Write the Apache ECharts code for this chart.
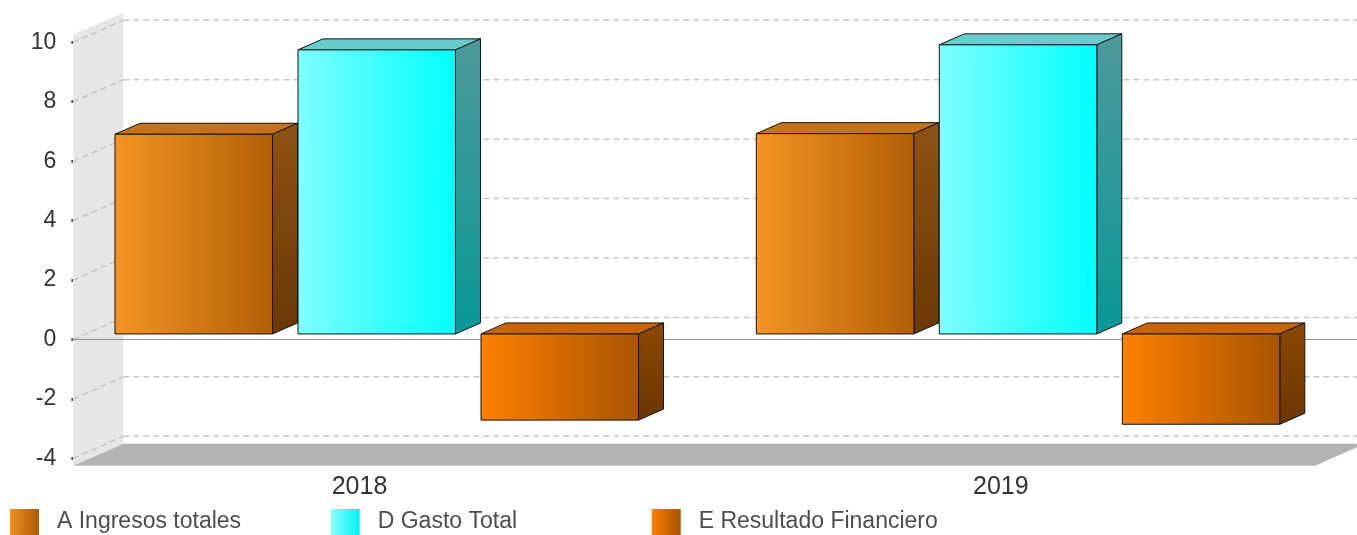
<!DOCTYPE html>
<html><head><meta charset="utf-8">
<script src="https://cdn.jsdelivr.net/npm/echarts@6/dist/echarts.min.js"></script>
<style>html,body{margin:0;padding:0;background:#fff}#c{width:1357px;height:535px}</style>
</head><body><div id="c"></div>
<script>
// ---------- data ----------
const categories = ['2018', '2019'];
const seriesNames = ['A Ingresos totales', 'D Gasto Total', 'E Resultado Financiero'];
const ingresosTotales = [6.72, 6.74];
const gastoTotal = [9.56, 9.73];
const resultadoFinanciero = [-2.90, -3.04];
const yTicks = [-4, -2, 0, 2, 4, 6, 8, 10];
const yMin = -4, yMax = 10, yInterval = 2;
const plotMin = -4.25, plotMax = 10.25;

// ---------- style / layout ----------
const FONT = '"Liberation Sans", Arial, sans-serif';
const GRID = {left: 38.85, right: 35.55, top: 42.3, bottom: 76.7};
const PLANE_INSET_L = 34.45, PLANE_INSET_R = 6.45;
const DX = 50, DY = -22;            // wall depth
const BAR_DX = 25, BAR_DY = -11;    // bar depth
const BAR_FRONT_DY = -5.5;
const BAR_W = 157.5, BAR_STEP = 183, GROUP_FIRST = -244.5;
const LEGEND_LEFT = [10, 330.7, 651.7];

function lg(x2, y2, c0, c1) {
  return new echarts.graphic.LinearGradient(0, 0, x2, y2, [{offset: 0, color: c0}, {offset: 1, color: c1}]);
}
const barColors = [
  {front: ['#f59422', '#b25f07'], top: '#c5721a', side: ['#8f5314', '#693803']},
  {front: ['#80ffff', '#00ffff'], top: '#66cccc', side: ['#4e9a9a', '#089898']},
  {front: ['#ff8000', '#a85500'], top: '#cb6500', side: ['#8c4900', '#6a3500']}
];
const legendColors = [
  ['#f09020', '#ab5a08'], ['#8affff', '#00f2f2'], ['#ff8000', '#a55200']
];

function renderDecor(params, api) {
  const cs = params.coordSys;
  const xL = cs.x + PLANE_INSET_L, xR = cs.x + cs.width - PLANE_INSET_R;
  const yT = api.coord([0, plotMax])[1], yB = api.coord([0, plotMin])[1];
  const children = [];
  children.push({type: 'polygon', shape: {points: [[xL, yT], [xL + DX, yT + DY], [xL + DX, yB + DY], [xL, yB]]},
    style: {fill: '#e6e6e6'}});
  children.push({type: 'polygon', shape: {points: [[xL, yB], [xR, yB], [xR + DX, yB + DY], [xL + DX, yB + DY]]},
    style: {fill: '#b3b3b3'}});
  yTicks.forEach(function (v) {
    const y = api.coord([0, v])[1];
    const ls = {stroke: '#c8c8c8', lineWidth: 1.5, lineDash: [6, 4]};
    children.push({type: 'line', shape: {x1: xL + DX, y1: y + DY, x2: xR + DX, y2: y + DY}, style: ls});
    children.push({type: 'line', shape: {x1: xL, y1: y, x2: xL + DX, y2: y + DY}, style: ls});
  });
  const y0 = api.coord([0, 0])[1];
  children.push({type: 'line', shape: {x1: xL, y1: y0, x2: xR + DX, y2: y0}, style: {stroke: '#8c8c8c', lineWidth: 1}});
  return {type: 'group', children: children};
}

function makeBarRender(i) {
  const c = barColors[i];
  return function (params, api) {
    const p = api.coord([api.value(0), api.value(1)]);
    const b = api.coord([api.value(0), 0]);
    const x0 = p[0] + GROUP_FIRST + i * BAR_STEP, x1 = x0 + BAR_W;
    const yT = Math.min(p[1], b[1]) + BAR_FRONT_DY, yB = Math.max(p[1], b[1]) + BAR_FRONT_DY;
    const stroke = {stroke: '#141414', lineWidth: 1};
    return {type: 'group', children: [
      {type: 'polygon', shape: {points: [[x0, yT], [x1, yT], [x1 + BAR_DX, yT + BAR_DY], [x0 + BAR_DX, yT + BAR_DY]]},
        style: Object.assign({fill: c.top}, stroke)},
      {type: 'polygon', shape: {points: [[x1, yT], [x1 + BAR_DX, yT + BAR_DY], [x1 + BAR_DX, yB + BAR_DY], [x1, yB]]},
        style: Object.assign({fill: lg(0, 1, c.side[0], c.side[1])}, stroke)},
      {type: 'rect', shape: {x: x0, y: yT, width: BAR_W, height: yB - yT},
        style: Object.assign({fill: lg(1, 0, c.front[0], c.front[1])}, stroke)}
    ]};
  };
}

const seriesValues = [ingresosTotales, gastoTotal, resultadoFinanciero];
const chart = echarts.init(document.getElementById('c'), null, {renderer: 'canvas'});
const series = [{
  type: 'custom', name: '_decor', silent: true, z: 1,
  renderItem: renderDecor, data: [[0, 0]], clip: false
}];
seriesNames.forEach(function (n, i) {
  series.push({
    type: 'custom', name: n, z: 3, clip: false,
    renderItem: makeBarRender(i),
    itemStyle: {color: lg(1, 0, legendColors[i][0], legendColors[i][1])},
    data: categories.map(function (cat, k) { return [k, seriesValues[i][k]]; })
  });
});

chart.setOption({
  animation: false,
  backgroundColor: '#ffffff',
  grid: Object.assign({outerBoundsMode: 'none', containLabel: false}, GRID),
  legend: seriesNames.map(function (n, i) {
    return {
      left: LEGEND_LEFT[i], top: 509, padding: 0, itemWidth: 29, itemHeight: 26, icon: 'rect',
      selectedMode: false,
      data: [{name: n, itemStyle: {color: lg(1, 0, legendColors[i][0], legendColors[i][1]), borderWidth: 0}}],
      textStyle: {fontSize: 23, color: '#4d4d4d', fontFamily: FONT, padding: [3, 0, 0, 13]}
    };
  }),
  xAxis: {
    type: 'category', data: categories, boundaryGap: true,
    axisLine: {show: false}, axisTick: {show: false}, splitLine: {show: false},
    axisLabel: {fontSize: 25, color: '#333', fontFamily: FONT, margin: 16}
  },
  yAxis: {
    type: 'value', min: yMin, max: yMax, interval: yInterval, offset: -PLANE_INSET_L,
    axisLine: {show: false}, splitLine: {show: false},
    axisTick: {show: true, length: 2, lineStyle: {color: '#555', width: 3}},
    axisLabel: {fontSize: 23, color: '#333', fontFamily: FONT, margin: 17}
  },
  series: series
});
</script></body></html>
